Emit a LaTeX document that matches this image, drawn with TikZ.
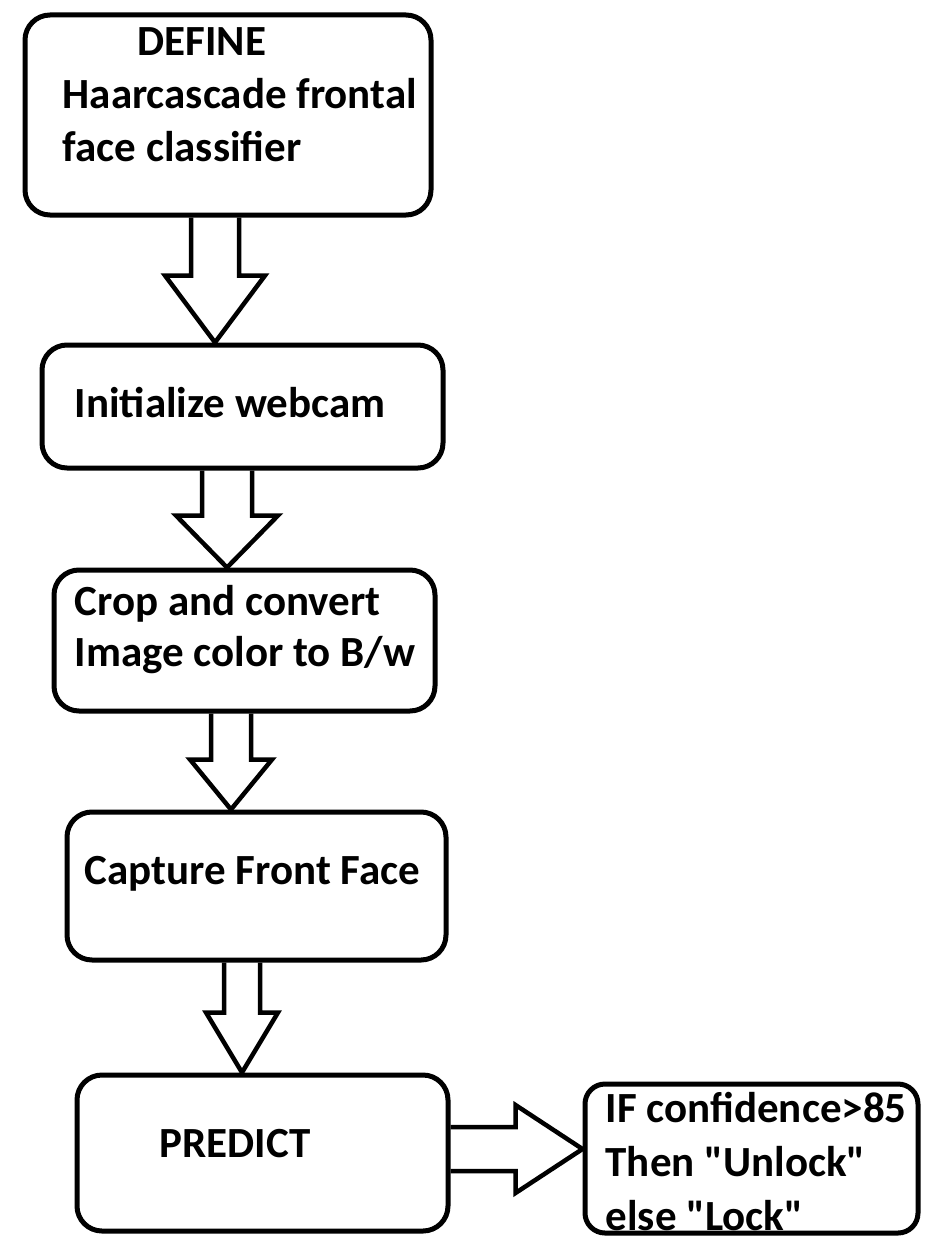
\documentclass[tikz,border=0pt]{standalone}
\usepackage{fontspec}
\setmainfont{Carlito}[Ligatures=TeXOff]
\usetikzlibrary{calc}
\tikzset{flowbox/.style={draw=black,line width=5pt,rounded corners=25pt,inner sep=0pt},
  boxtext/.style={font=\bfseries\fontsize{43}{53}\selectfont,align=left,inner sep=0pt,anchor=north west},
  blockarrow/.style={draw=black,line width=4.5pt,line join=miter}}
% hollow block arrows: from, to, axis coordinate, shaft half width, head half width, head length
\newcommand{\downblock}[6]{%
  \draw[blockarrow] ($(#1.south -| #3)+(-#4,0)$) -- ($(#2.north -| #3)+(-#4,-#6)$)
    -- ($(#2.north -| #3)+(-#5,-#6)$) -- (#2.north -| #3) -- ($(#2.north -| #3)+(#5,-#6)$)
    -- ($(#2.north -| #3)+(#4,-#6)$) -- ($(#1.south -| #3)+(#4,0)$);}
\newcommand{\rightblock}[6]{%
  \draw[blockarrow] ($(#1.east |- #3)+(0,-#4)$) -- ($(#2.west |- #3)+(-#6,-#4)$)
    -- ($(#2.west |- #3)+(-#6,-#5)$) -- (#2.west |- #3) -- ($(#2.west |- #3)+(-#6,#5)$)
    -- ($(#2.west |- #3)+(-#6,#4)$) -- ($(#1.east |- #3)+(0,#4)$);}
\begin{document}
\begin{tikzpicture}[x=1pt,y=-1pt]
\path[fill=white,use as bounding box] (0,0) rectangle (924,1239);
% boxes
\node[flowbox,minimum width=406pt,minimum height=200pt] (define) at (228,115) {};
\node[flowbox,minimum width=401pt,minimum height=123pt] (webcam) at (242.5,406.5) {};
\node[flowbox,minimum width=381pt,minimum height=141pt] (crop) at (244.5,640.5) {};
\node[flowbox,minimum width=379pt,minimum height=148pt] (capture) at (256.5,886) {};
\node[flowbox,minimum width=371pt,minimum height=156pt] (predict) at (262.5,1153) {};
\node[flowbox,rounded corners=20pt,minimum width=333pt,minimum height=149pt] (decide) at (751.5,1158.5) {};
% texts
\node[boxtext] (defineTxt) at ($(define.north west)+(40,15)$) {\hspace*{75pt}DEFINE\\Haarcascade frontal\\face classifier};
\node[boxtext] (webcamTxt) at ($(webcam.north west)+(35,45)$) {Initialize webcam};
\node[boxtext,font=\bfseries\fontsize{43}{51}\selectfont] (cropTxt) at ($(crop.north west)+(23,18)$) {Crop and convert\\Image color to B/w};
\node[boxtext] (captureTxt) at ($(capture.north west)+(20,47)$) {Capture Front Face};
\node[boxtext] (predictTxt) at ($(predict.north west)+(85,57)$) {PREDICT};
\node[boxtext,font=\bfseries\fontsize{43}{54}\selectfont] (decideTxt) at ($(decide.north west)+(23,11)$) {IF confidence>85\\Then "Unlock"\\else "Lock"};
% arrows
\coordinate (ax1) at (215,0);
\coordinate (ax2) at (227,0);
\coordinate (ax3) at (231,0);
\coordinate (ax4) at (242,0);
\coordinate (ax5) at (0,1149);
\downblock{define}{webcam}{ax1}{24}{50}{67}
\downblock{webcam}{crop}{ax2}{25}{51}{52}
\downblock{crop}{capture}{ax3}{20}{41}{50}
\downblock{capture}{predict}{ax4}{18}{36}{60}
\rightblock{predict}{decide}{ax5}{22}{44}{67}
\end{tikzpicture}
\end{document}
